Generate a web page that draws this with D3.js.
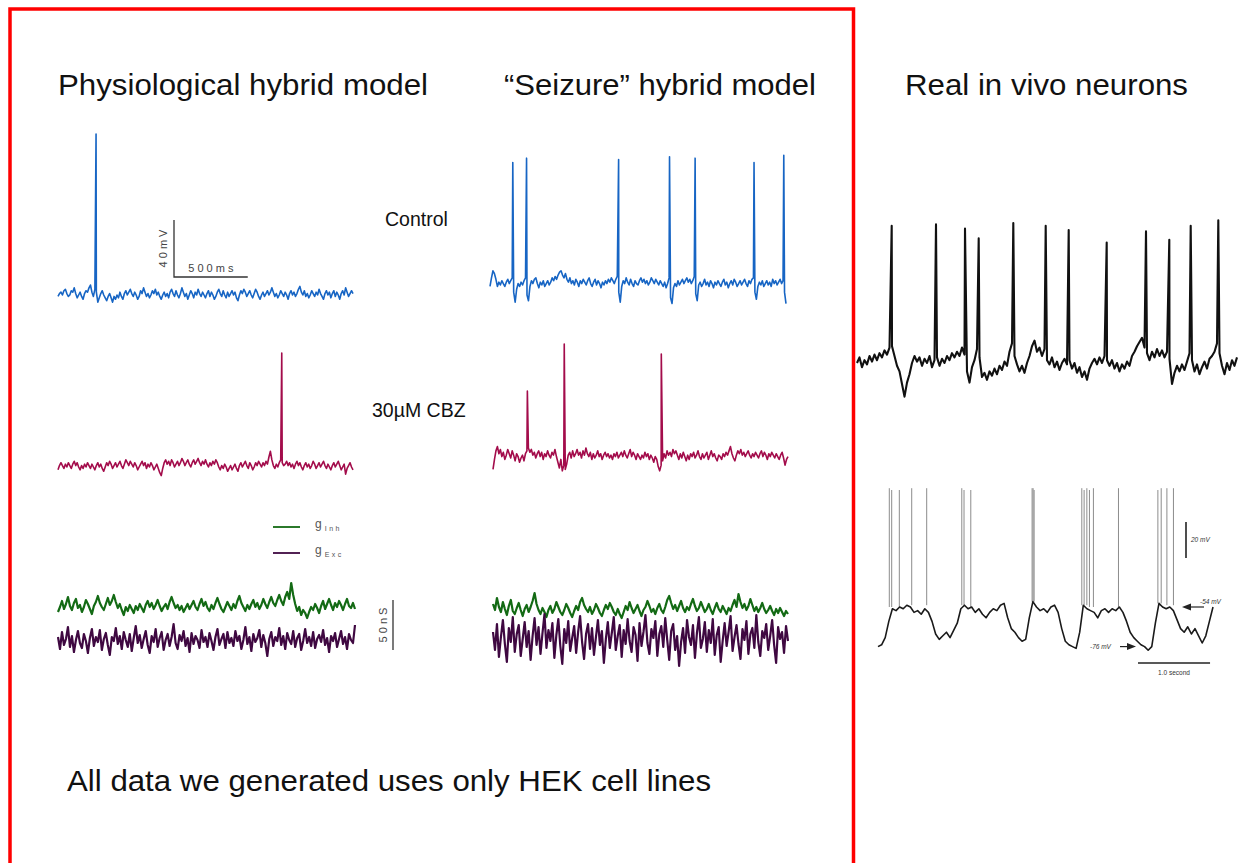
<!DOCTYPE html>
<html>
<head>
<meta charset="utf-8">
<script src="https://cdn.jsdelivr.net/npm/d3@7"></script>
<style>
  body { margin: 0; background: #fff; }
  svg { display: block; }
</style>
</head>
<body>
<svg id="fig" width="1250" height="863"></svg>
<script>
// ---------- recorded values ----------
// Model membrane potential traces: one sample every 10 ms over 2 s (mV)
const SAMPLE_MS = 10;

const ctrlPhysV = [
  -66,-64,-63,-65,-62,-61,-64,-66,-65,-62,-63,-60,-64,-67,-65,-63,-66,-68,-64,-62,
  -63,-60,-58,-63,-66,-61,-63,-70,-67,-64,-62,-65,-67,-69,-66,-64,-67,-70,-66,-68,
  -65,-67,-63,-66,-68,-64,-62,-65,-63,-61,-64,-66,-63,-65,-68,-66,-62,-64,-60,-63,
  -66,-64,-67,-65,-62,-64,-61,-65,-63,-66,-68,-65,-63,-66,-64,-67,-63,-61,-64,-66,
  -62,-65,-67,-64,-60,-63,-66,-64,-68,-65,-62,-64,-67,-63,-65,-61,-64,-66,-63,-65,
  -67,-64,-62,-66,-63,-65,-68,-66,-63,-61,-64,-66,-62,-65,-67,-63,-66,-64,-62,-65,
  -63,-67,-69,-65,-62,-64,-61,-63,-66,-64,-62,-65,-67,-64,-61,-63,-66,-68,-65,-63,
  -66,-64,-62,-65,-63,-60,-63,-66,-64,-67,-65,-62,-64,-66,-63,-65,-68,-64,-62,-65,
  -63,-66,-64,-61,-59,-63,-65,-62,-66,-64,-67,-65,-62,-64,-66,-63,-65,-61,-64,-66,
  -68,-64,-62,-65,-63,-67,-64,-62,-66,-63,-65,-68,-64,-62,-65,-60,-63,-66,-64,-62,
  -64
];
const ctrlPhysSpikes = [[258, 48]];          // [time ms, peak mV]

const ctrlSeizV = [
  -66,-60,-55,-57,-61,-66,-63,-65,-62,-64,-66,-63,-61,-64,-62,-60,-70,-77,-68,-64,
  -66,-63,-65,-62,-60,-72,-76,-66,-62,-64,-61,-60,-64,-67,-63,-65,-62,-66,-64,-62,
  -65,-63,-60,-62,-59,-61,-58,-56,-55,-58,-60,-57,-61,-63,-60,-64,-62,-65,-61,-63,
  -66,-62,-64,-61,-63,-65,-62,-60,-64,-66,-63,-61,-65,-62,-64,-67,-63,-65,-62,-64,
  -61,-63,-60,-62,-64,-61,-59,-70,-77,-66,-62,-64,-60,-63,-65,-61,-64,-66,-62,-64,
  -65,-62,-60,-63,-61,-64,-62,-65,-63,-60,-62,-64,-61,-63,-65,-62,-64,-66,-63,-67,
  -64,-60,-74,-78,-67,-64,-66,-62,-65,-63,-61,-64,-62,-60,-63,-61,-64,-62,-59,-71,
  -76,-65,-63,-66,-64,-61,-65,-63,-66,-62,-64,-67,-63,-65,-62,-64,-66,-63,-61,-65,
  -63,-67,-64,-62,-65,-61,-63,-66,-64,-62,-65,-63,-61,-64,-66,-62,-64,-61,-60,-70,
  -75,-66,-63,-65,-62,-66,-64,-62,-65,-63,-66,-61,-64,-62,-65,-63,-61,-64,-62,-70,
  -78
];
const ctrlSeizSpikes = [[154, 21], [247, 24], [869, 23], [1213, 25], [1386, 24], [1784, 21], [1985, 26]];

const cbzPhysV = [
  -67,-64,-62,-64,-66,-63,-65,-62,-64,-66,-63,-61,-64,-62,-65,-67,-64,-66,-63,-65,
  -62,-64,-66,-63,-65,-67,-64,-62,-65,-63,-66,-68,-65,-62,-64,-61,-63,-66,-64,-62,
  -65,-63,-61,-64,-66,-63,-60,-62,-64,-61,-63,-65,-62,-64,-67,-65,-63,-61,-64,-62,
  -66,-63,-65,-62,-64,-67,-65,-63,-66,-69,-71,-66,-62,-60,-63,-61,-64,-60,-62,-65,
  -63,-61,-64,-62,-59,-61,-64,-62,-60,-63,-65,-62,-60,-63,-61,-59,-62,-64,-61,-63,
  -60,-63,-65,-62,-64,-61,-63,-60,-62,-65,-67,-64,-66,-63,-65,-68,-66,-64,-67,-65,
  -63,-66,-68,-64,-62,-65,-63,-61,-64,-66,-62,-64,-67,-65,-62,-64,-61,-63,-65,-62,
  -64,-61,-63,-58,-54,-60,-64,-66,-63,-65,-62,-60,-62,-64,-63,-61,-64,-62,-65,-63,
  -66,-63,-61,-64,-62,-65,-67,-64,-62,-65,-63,-66,-64,-61,-63,-66,-64,-62,-65,-63,
  -61,-64,-66,-63,-65,-67,-64,-62,-65,-63,-61,-64,-67,-65,-63,-70,-66,-64,-62,-65,
  -67
];
const cbzPhysSpikes = [[1517, 15]];

const cbzSeizV = [
  -73,-66,-60,-57,-62,-59,-64,-61,-66,-63,-59,-62,-65,-60,-63,-67,-62,-64,-68,-65,
  -63,-67,-62,-60,-58,-61,-59,-63,-61,-65,-62,-60,-64,-61,-66,-62,-64,-60,-63,-65,
  -61,-63,-59,-64,-68,-72,-66,-74,-70,-73,-69,-63,-61,-65,-60,-64,-62,-59,-63,-61,
  -65,-60,-63,-58,-62,-64,-61,-66,-62,-65,-63,-60,-64,-62,-66,-63,-61,-64,-62,-65,
  -63,-66,-62,-64,-61,-65,-63,-61,-64,-60,-63,-65,-62,-59,-64,-61,-63,-66,-62,-64,
  -66,-63,-65,-61,-64,-62,-66,-63,-65,-68,-64,-66,-71,-74,-70,-67,-62,-65,-60,-63,
  -61,-64,-59,-62,-60,-63,-66,-62,-65,-61,-64,-67,-63,-66,-62,-64,-61,-65,-63,-60,
  -64,-66,-62,-65,-63,-61,-66,-63,-60,-64,-62,-65,-67,-63,-64,-66,-62,-64,-61,-63,
  -60,-57,-62,-65,-67,-63,-60,-62,-59,-63,-61,-64,-62,-60,-63,-65,-62,-64,-61,-63,
  -65,-62,-60,-64,-61,-63,-66,-62,-64,-61,-63,-65,-62,-64,-66,-63,-61,-65,-70,-66,
  -64
];
const cbzSeizSpikes = [[233, -18], [483, 15], [1141, 8]];

// Synaptic conductances injected in the dynamic clamp (nS), 150 samples over 2 s
const gInhPhys = [
  55,60,66,58,63,70,61,57,64,68, 59,62,55,60,67,63,58,53,61,65,
  71,64,60,57,63,69,62,66,72,65, 59,63,57,52,60,56,62,58,54,61,
  57,63,59,55,62,66,60,64,58,62, 67,61,56,60,63,58,65,70,64,59,
  62,57,61,55,59,63,58,62,66,60, 57,63,68,61,65,59,56,62,58,64,
  69,63,58,55,60,65,61,57,63,59, 66,71,64,60,56,62,58,63,67,60,
  64,58,62,68,63,59,65,70,64,61, 67,72,66,62,70,75,68,84,72,63,
  56,60,52,57,54,49,55,60,57,63, 59,54,61,66,58,63,68,62,57,64,
  60,66,62,57,63,68,61,59,64,58
];
const gExcPhys = [
  30,18,35,22,28,40,20,31,15,27, 36,24,19,33,26,14,29,38,21,30,
  25,37,17,28,34,22,12,30,26,39, 23,31,18,35,27,20,33,16,29,41,
  24,32,19,28,36,22,14,31,25,38, 20,29,35,17,27,33,21,30,43,24,
  18,32,26,36,21,29,15,34,23,31, 27,19,37,25,30,20,34,26,17,30,
  38,22,28,33,19,35,24,29,21,36, 26,31,18,27,40,23,30,16,33,25,
  29,37,20,32,24,11,28,35,21,30, 26,39,22,31,18,34,27,23,36,20,
  29,33,17,26,38,24,30,21,35,19, 28,32,25,37,22,29,15,31,26,34,
  20,28,36,23,30,18,33,27,24,42
];
const gInhSeiz = [
  68,62,74,65,60,70,63,57,66,72, 61,58,64,69,62,56,63,67,60,65,
  71,79,68,62,58,64,60,55,62,66, 59,63,70,65,60,57,62,68,64,59,
  55,61,66,62,70,74,67,63,60,65, 58,62,68,64,59,56,62,67,63,69,
  65,60,57,63,58,54,60,66,62,70, 64,59,63,67,61,56,62,65,71,66,
  60,63,58,64,68,62,59,65,72,76, 69,63,67,61,66,71,64,60,65,62,
  68,73,66,61,64,70,65,60,63,68, 62,58,64,69,63,60,66,62,58,64,
  61,67,72,65,78,70,64,68,62,66, 73,67,61,65,60,64,69,63,59,62,
  66,61,57,63,59,64,60,56,61,58
];
const gExcSeiz = [
  40,22,48,15,35,52,28,10,44,30, 55,20,38,47,16,33,50,25,41,12,
  36,54,27,45,18,39,58,24,42,31, 49,14,37,53,26,8,43,29,51,21,
  34,46,19,40,56,30,13,38,48,23, 44,17,35,52,27,41,9,33,50,24,
  39,55,22,36,47,15,42,28,53,31, 20,45,37,11,49,26,40,57,29,18,
  43,34,51,16,38,46,25,54,32,12, 41,48,22,36,6,30,44,19,52,35,
  27,47,14,39,55,24,33,50,20,42, 29,53,17,37,45,10,31,49,26,40,
  56,21,35,47,28,13,43,32,51,18, 38,44,24,57,30,16,41,34,48,22,
  36,52,27,9,45,33,40,19,46,31
];

// In vivo recording 1: one sample every 25 ms over 3.8 s (mV)
const VIVO1_MS = 25;
const vivo1V = [
  -60,-56,-63,-58,-61,-55,-59,-54,-58,-53,
  -56,-51,-54,-49,-48,-55,-62,-66,-75,-84,
  -74,-68,-60,-55,-59,-56,-62,-57,-60,-55,
  -63,-58,-56,-62,-57,-60,-55,-58,-53,-56,
  -52,-55,-49,-54,-66,-74,-63,-58,-50,-56,
  -70,-67,-72,-66,-69,-64,-68,-62,-65,-59,
  -62,-52,-46,-55,-61,-66,-62,-67,-60,-55,
  -48,-44,-52,-49,-55,-50,-58,-61,-56,-63,
  -59,-65,-60,-57,-61,-58,-64,-60,-67,-63,
  -70,-66,-72,-64,-60,-57,-61,-56,-60,-55,
  -58,-62,-58,-64,-60,-66,-61,-64,-59,-62,
  -55,-52,-48,-45,-42,-49,-53,-58,-52,-56,
  -50,-55,-51,-56,-52,-57,-75,-67,-62,-66,
  -61,-65,-59,-53,-58,-66,-61,-68,-63,-59,
  -64,-57,-55,-52,-46,-53,-62,-68,-60,-65,
  -58,-62,-56
];
const vivo1Spikes = [[347, 38], [790, 39], [1080, 36], [1217, 29], [1563, 40], [1887, 38],
                     [2117, 35], [2497, 26], [2890, 34], [3123, 28], [3337, 38], [3613, 42]];

// In vivo recording 2: slow oscillation, one sample every 50 ms over 4.65 s (mV)
const VIVO2_MS = 50;
const vivo2V = [
  -76,-75,-71,-62,-55,-56,-54,-55,-53,-54,
  -57,-56,-58,-55,-57,-62,-69,-72,-70,-68,
  -71,-67,-63,-55,-53,-55,-54,-57,-55,-58,
  -60,-57,-55,-56,-53,-52,-60,-66,-68,-71,
  -73,-72,-60,-51,-54,-56,-55,-57,-54,-53,
  -57,-66,-73,-75,-76,-77,-68,-53,-55,-56,
  -57,-60,-56,-55,-57,-55,-56,-54,-57,-62,
  -68,-71,-73,-75,-76,-78,-76,-63,-52,-54,
  -55,-54,-56,-61,-66,-68,-65,-69,-66,-70,
  -74,-70,-62,-54
];
// [time ms, onset mV, peak mV]
const vivo2Spikes = [
  [157, -54, 12], [190, -54, 11], [296, -54, 11], [468, -53, 12], [676, -53, 12],
  [1163, -53, 12], [1194, -53, 11], [1288, -54, 11],
  [2139, -51, 12], [2153, -51, 12], [2167, -51, 11],
  [2829, -53, 12], [2861, -53, 11], [2899, -53, 12], [2935, -54, 11], [2990, -54, 12], [3338, -54, 12],
  [3885, -52, 11], [3931, -52, 12], [4010, -53, 12], [4101, -53, 12]
];

// ---------- drawing ----------
const FONT = "'Liberation Sans', Arial, Helvetica, sans-serif";
const svg = d3.select("#fig").style("font-family", FONT);

const BLUE = "#1765c4", CRIMSON = "#a30c4b", GREEN = "#136a14", PURPLE = "#3f0841";

function samples(values, step) {
  return values.map((v, i) => [i * step, v]);
}
function withSpikes(values, step, spikes) {
  return samples(values, step).concat(spikes.map(s => [s[0], s[1]]))
    .sort((a, b) => a[0] - b[0]);
}
function drawTrace(pts, x, y, color, width) {
  svg.append("path")
    .datum(pts)
    .attr("fill", "none")
    .attr("stroke", color)
    .attr("stroke-width", width)
    .attr("stroke-linejoin", "round")
    .attr("d", d3.line().x(d => x(d[0])).y(d => y(d[1])));
}
const mvScale = y0 => d3.scaleLinear().domain([-65, 35]).range([y0, y0 - 142.5]);

// Red frame around the hybrid-model panels
svg.append("rect")
  .attr("x", 10).attr("y", 9).attr("width", 843.5).attr("height", 900)
  .attr("fill", "none").attr("stroke", "#ff0000").attr("stroke-width", 3.5);

// Column titles
[["Physiological hybrid model", 58, 370],
 ["\u201cSeizure\u201d hybrid model", 504, 312],
 ["Real in vivo neurons", 905, 283]].forEach(([t, x, w]) => {
  svg.append("text").attr("x", x).attr("y", 95)
    .attr("textLength", w).attr("lengthAdjust", "spacingAndGlyphs")
    .style("font-size", "30px").attr("fill", "#111").text(t);
});

svg.append("text").attr("x", 67).attr("y", 791)
  .attr("textLength", 644).attr("lengthAdjust", "spacingAndGlyphs")
  .style("font-size", "30px").attr("fill", "#111")
  .text("All data we  generated uses only HEK cell lines");

svg.append("text").attr("x", 385).attr("y", 226).style("font-size", "19.5px").attr("fill", "#111").text("Control");
svg.append("text").attr("x", 372).attr("y", 417).style("font-size", "19.5px").attr("fill", "#111").text("30\u00b5M CBZ");

// Control row
const xPhys = d3.scaleLinear().domain([0, 2000]).range([58, 353]);
const xSeiz = d3.scaleLinear().domain([0, 2000]).range([490, 786]);
const yCtrlPhys = mvScale(295), yCtrlSeiz = mvScale(285);
drawTrace(withSpikes(ctrlPhysV, SAMPLE_MS, ctrlPhysSpikes), xPhys, yCtrlPhys, BLUE, 1.6);
drawTrace(withSpikes(ctrlSeizV, SAMPLE_MS, ctrlSeizSpikes), xSeiz, yCtrlSeiz, BLUE, 1.6);

// 40 mV / 500 ms scale bar
const barX = 174, barY = 277;
const mvLen = yCtrlPhys(-65) - yCtrlPhys(-25);
const msLen = xPhys(500) - xPhys(0);
svg.append("path")
  .attr("d", `M${barX},${barY - mvLen}V${barY}H${barX + msLen}`)
  .attr("fill", "none").attr("stroke", "#333").attr("stroke-width", 1.3);
svg.append("text").attr("transform", `translate(${barX - 7},${barY - mvLen / 2}) rotate(-90)`)
  .attr("text-anchor", "middle").style("font-size", "11px").attr("fill", "#444").text("4 0 m V");
svg.append("text").attr("x", barX + msLen / 2).attr("y", barY - 5)
  .attr("text-anchor", "middle").style("font-size", "11px").attr("fill", "#444").text("5 0 0 m s");

// CBZ row
const xSeiz2 = d3.scaleLinear().domain([0, 2000]).range([493, 788]);
drawTrace(withSpikes(cbzPhysV, SAMPLE_MS, cbzPhysSpikes), xPhys, mvScale(467), CRIMSON, 1.6);
drawTrace(withSpikes(cbzSeizV, SAMPLE_MS, cbzSeizSpikes), xSeiz2, mvScale(458), CRIMSON, 1.6);

// Conductance row
const xgPhys = d3.scaleLinear().domain([0, 149]).range([58, 355]);
const xgSeiz = d3.scaleLinear().domain([0, 149]).range([493, 788]);
const ygPhys = d3.scaleLinear().domain([0, 50]).range([667, 617]);
const ygSeiz = d3.scaleLinear().domain([0, 50]).range([672, 622]);
drawTrace(samples(gInhPhys, 1), xgPhys, ygPhys, GREEN, 2.2);
drawTrace(samples(gExcPhys, 1), xgPhys, ygPhys, PURPLE, 2.2);
drawTrace(samples(gInhSeiz, 1), xgSeiz, ygSeiz, GREEN, 2.2);
drawTrace(samples(gExcSeiz, 1), xgSeiz, ygSeiz, PURPLE, 2.2);

// Legend
[["Inh", GREEN, 527], ["Exc", PURPLE, 553]].forEach(([sub, c, y]) => {
  svg.append("line").attr("x1", 273).attr("x2", 300).attr("y1", y).attr("y2", y)
    .attr("stroke", c).attr("stroke-width", 1.8);
  const t = svg.append("text").attr("x", 315).attr("y", y + 1)
    .style("font-size", "12px").attr("fill", "#555").text("g");
  t.append("tspan").attr("dx", 3).attr("dy", 3).style("font-size", "7px")
    .attr("letter-spacing", "2.5").text(sub);
});

// 50 nS scale bar
const nsLen = ygPhys(0) - ygPhys(50);
svg.append("line").attr("x1", 393).attr("x2", 393).attr("y1", 600).attr("y2", 600 + nsLen)
  .attr("stroke", "#333").attr("stroke-width", 1.3);
svg.append("text").attr("transform", `translate(387,${600 + nsLen / 2}) rotate(-90)`)
  .attr("text-anchor", "middle").style("font-size", "11px").attr("fill", "#444").text("5 0 n S");

// In vivo recording 1
const xV1 = d3.scaleLinear().domain([0, 3800]).range([857, 1237]);
const yV1 = d3.scaleLinear().domain([-60, 40]).range([363, 223]);
drawTrace(withSpikes(vivo1V, VIVO1_MS, vivo1Spikes), xV1, yV1, "#111", 2.1);

// In vivo recording 2 (slow oscillation)
const xV2 = d3.scaleLinear().domain([0, 4650]).range([878, 1213]);
const yV2 = d3.scaleLinear().domain([-54, -34]).range([607, 571]);
vivo2Spikes.forEach(s => {
  svg.append("path")
    .datum([[s[0], s[1]], [s[0], s[2]]])
    .attr("fill", "none").attr("stroke", "#8c8c8c").attr("stroke-width", 1)
    .attr("d", d3.line().x(d => xV2(d[0])).y(d => yV2(d[1])));
});
drawTrace(samples(vivo2V, VIVO2_MS), xV2, yV2, "#1a1a1a", 1.6);

// 20 mV bar
const v2mv = yV2(-54) - yV2(-34);
svg.append("line").attr("x1", 1186).attr("x2", 1186).attr("y1", 522).attr("y2", 522 + v2mv)
  .attr("stroke", "#222").attr("stroke-width", 1.6);
svg.append("text").attr("x", 1191).attr("y", 542).style("font-size", "6.5px")
  .style("font-style", "italic").attr("fill", "#333").text("20 mV");

// Membrane level markers
const arrowHead = (x, y, dir) =>
  svg.append("path").attr("d", `M${x},${y}l${-9 * dir},-3.5v7z`).attr("fill", "#222");
const yUp = yV2(-54), yDown = yV2(-76);
svg.append("line").attr("x1", 1189).attr("x2", 1204).attr("y1", yUp).attr("y2", yUp)
  .attr("stroke", "#222").attr("stroke-width", 1.2);
arrowHead(1182, yUp, -1);
svg.append("text").attr("x", 1200).attr("y", yUp - 3).style("font-size", "6.5px")
  .style("font-style", "italic").attr("fill", "#333").text("-54 mV");
svg.append("line").attr("x1", 1120).attr("x2", 1128).attr("y1", yDown).attr("y2", yDown)
  .attr("stroke", "#222").attr("stroke-width", 1.2);
arrowHead(1136, yDown, 1);
svg.append("text").attr("x", 1090).attr("y", yDown + 2).style("font-size", "6.5px")
  .style("font-style", "italic").attr("fill", "#333").text("-76 mV");

// 1.0 second bar
const secLen = xV2(1000) - xV2(0);
svg.append("line").attr("x1", 1138).attr("x2", 1138 + secLen).attr("y1", 663).attr("y2", 663)
  .attr("stroke", "#222").attr("stroke-width", 1.6);
svg.append("text").attr("x", 1138 + secLen / 2).attr("y", 675).attr("text-anchor", "middle")
  .style("font-size", "6.5px").attr("fill", "#333").text("1.0 second");
</script>
</body>
</html>
